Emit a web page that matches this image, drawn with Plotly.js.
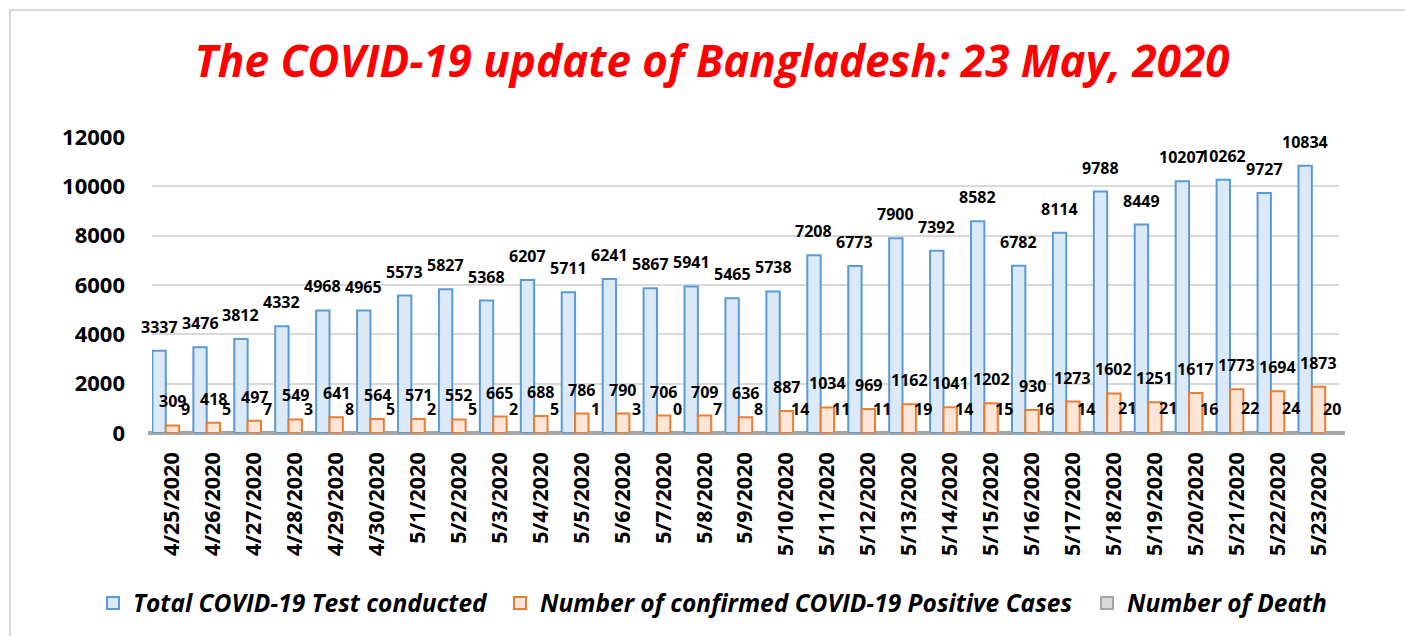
<!DOCTYPE html>
<html>
<head>
<meta charset="utf-8">
<script src="https://cdn.plot.ly/plotly-3.0.1.min.js"></script>
<style>html,body{margin:0;padding:0;background:#fff;}#chart{width:1405px;height:636px;}</style>
</head>
<body>
<div id="chart"></div>
<script>
const dates = ["4/25/2020","4/26/2020","4/27/2020","4/28/2020","4/29/2020","4/30/2020","5/1/2020","5/2/2020","5/3/2020","5/4/2020","5/5/2020","5/6/2020","5/7/2020","5/8/2020","5/9/2020","5/10/2020","5/11/2020","5/12/2020","5/13/2020","5/14/2020","5/15/2020","5/16/2020","5/17/2020","5/18/2020","5/19/2020","5/20/2020","5/21/2020","5/22/2020","5/23/2020"];
const tests = [3337,3476,3812,4332,4968,4965,5573,5827,5368,6207,5711,6241,5867,5941,5465,5738,7208,6773,7900,7392,8582,6782,8114,9788,8449,10207,10262,9727,10834];
const positives = [309,418,497,549,641,564,571,552,665,688,786,790,706,709,636,887,1034,969,1162,1041,1202,930,1273,1602,1251,1617,1773,1694,1873];
const deaths = [9,5,7,3,8,5,2,5,2,5,1,3,0,7,8,14,11,11,19,14,15,16,14,21,21,16,22,24,20];
const seriesNames = ["Total COVID-19 Test conducted","Number of confirmed COVID-19 Positive Cases","Number of Death"];

const W = 1405, H = 636;
const mL = 152, mR = 66, mT = 137, mB = 203;
const plotW = W - mL - mR, plotH = H - mT - mB;
const bargap = 0.02;
const barW = plotW / dates.length * (1 - bargap) / 3;
const F = "'Open Sans', 'Noto Sans', sans-serif";

const styles = [
  {fill:"#dce9f8", line:"#5b9bd5"},
  {fill:"#fde6d8", line:"#ed7d31"},
  {fill:"#d9d9d9", line:"#a5a5a5"}
];
const values = [tests, positives, deaths];
const legendIds = ["legend", "legend2", "legend3"];
const legendLeft = [93, 500, 1087];

const traces = values.map((v, i) => ({
  type: "bar", x: dates, y: v, name: seriesNames[i], legend: legendIds[i], showlegend: true,
  marker: {color: styles[i].fill, line: {color: styles[i].line, width: 2}},
  hoverinfo: "x+y"
}));

const annotations = [];
values.forEach((v, i) => {
  v.forEach((val, j) => {
    annotations.push({
      x: dates[j], y: val, xref: "x", yref: "y",
      text: String(val), showarrow: false,
      xshift: (i - 1) * barW, yshift: 24, yanchor: "middle", xanchor: "center",
      font: {family: F, size: 16, color: "#000", weight: 700}
    });
  });
});

const px2x = p => (p - mL) / plotW;
const px2y = p => (H - mB - p) / plotH;

const layout = {
  width: W, height: H, showlegend: true,
  margin: {l: mL, r: mR, t: mT, b: mB, autoexpand: false},
  paper_bgcolor: "#fff", plot_bgcolor: "#fff",
  title: {
    text: "The COVID-19 update of Bangladesh: 23 May, 2020",
    font: {family: F, size: 44, color: "#ff0000", weight: 700, style: "italic"},
    x: 712 / W, xanchor: "center", y: 1 - 62 / H, yanchor: "middle"
  },
  barmode: "group", bargap: bargap, bargroupgap: 0,
  xaxis: {
    type: "category", range: [-0.5, dates.length - 0.5], tickangle: -90, ticklabelstandoff: 14,
    tickfont: {family: F, size: 21.5, color: "#000", weight: 700},
    showgrid: false, showline: false, ticks: ""
  },
  yaxis: {
    range: [0, 12000], dtick: 2000, tick0: 0, tickformat: "d",
    tickfont: {family: F, size: 22, color: "#000", weight: 700},
    gridcolor: "#d9d9d9", gridwidth: 2, zeroline: false,
    showline: false, ticks: "", ticklabelstandoff: 26
  },
  annotations: annotations,
  shapes: [
    {type: "line", xref: "paper", yref: "paper", x0: px2x(148), x1: px2x(1345), y0: px2y(433), y1: px2y(433),
     line: {color: "#a6a6a6", width: 4}, layer: "below"},
    {type: "rect", xref: "paper", yref: "paper", x0: px2x(10), x1: px2x(1420), y0: px2y(650), y1: px2y(10),
     line: {color: "#d9d9d9", width: 2}, layer: "below"}
  ]
};
legendIds.forEach((id, i) => {
  layout[id] = {
    visible: true,
    orientation: "h", xref: "container", yref: "container",
    x: legendLeft[i] / W, xanchor: "left", y: 1 - 603 / H, yanchor: "middle",
    font: {family: F, size: 24.5, color: "#000", weight: 700, style: "italic"},
    itemclick: false, bgcolor: "rgba(0,0,0,0)"
  };
});

Plotly.newPlot("chart", traces, layout, {displayModeBar: false, staticPlot: true});
</script>
</body>
</html>
